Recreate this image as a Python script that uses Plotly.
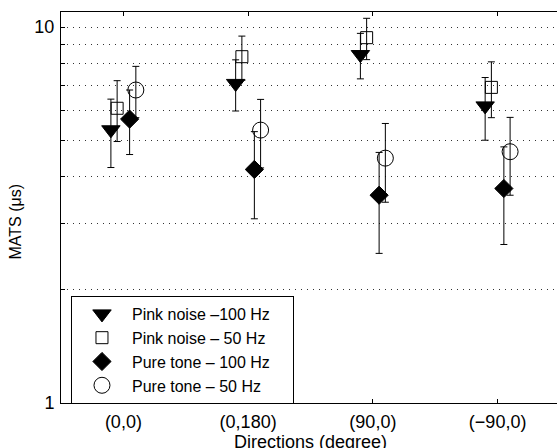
import plotly.graph_objects as go

# ---- data ----
directions = ["(0,0)", "(0,180)", "(90,0)", "(\u221290,0)"]
series_names = ["Pink noise \u2013100 Hz", "Pink noise \u2013 50 Hz",
                "Pure tone \u2013 100 Hz", "Pure tone \u2013 50 Hz"]
pink_100 = [5.33, 7.08, 8.45, 6.17]
pink_100_err = [1.10, 1.10, 1.17, 1.17]
pink_50 = [6.08, 8.34, 9.37, 6.91]
pink_50_err = [1.12, 1.12, 1.18, 1.17]
pure_100 = [5.69, 4.18, 3.57, 3.72]
pure_100_err = [1.11, 1.09, 1.07, 1.08]
pure_50 = [6.80, 5.32, 4.48, 4.66]
pure_50_err = [1.06, 1.10, 1.06, 1.09]
y_tick_vals = [1, 2, 3, 4, 5, 6, 7, 8, 9, 10]
y_tick_text = ["1", "", "", "", "", "", "", "", "", "10"]

# ---- styling ----
FONT = "Liberation Sans, Arial, Helvetica, sans-serif"
base_x = list(range(1, len(directions) + 1))
offsets = [-0.10, -0.05, 0.05, 0.10]
styles = [
    dict(symbol="triangle-down", size=16, color="black", line=dict(color="black", width=1)),
    dict(symbol="square-open", size=12, color="black", line=dict(color="black", width=1)),
    dict(symbol="diamond", size=14, color="black", line=dict(color="black", width=1)),
    dict(symbol="circle-open", size=16, color="black", line=dict(color="black", width=1)),
]
values = [pink_100, pink_50, pure_100, pure_50]
errors = [pink_100_err, pink_50_err, pure_100_err, pure_50_err]
PAD = "\u00a0" * 4

fig = go.Figure()
for name, vals, errs, off, st in zip(series_names, values, errors, offsets, styles):
    fig.add_trace(go.Scatter(
        x=[b + off for b in base_x], y=vals, name=name + PAD, mode="markers",
        marker=st,
        error_y=dict(type="data", array=errs, visible=True, color="black",
                     thickness=1, width=3.5),
    ))

# figure is a bit wider than the window so the plot's right edge falls just outside it
fig.update_layout(
    width=600, height=448,
    margin=dict(l=61, r=40, t=12, b=45),
    paper_bgcolor="white", plot_bgcolor="white",
    font=dict(family=FONT, size=18, color="black"),
    showlegend=True,
    legend=dict(x=0.02, y=0.2737, xanchor="left", yanchor="top",
                bordercolor="black", borderwidth=1, bgcolor="white",
                font=dict(family=FONT, size=16, color="black"),
                tracegroupgap=0, itemwidth=50),
    xaxis=dict(range=[0.5, 4.5], tickmode="array", tickvals=base_x,
               ticktext=directions, ticks="inside", ticklen=4,
               tickcolor="black", showline=True, linecolor="black",
               linewidth=1, mirror="ticks", showgrid=False, zeroline=False,
               ticklabelstandoff=2,
               tickfont=dict(family=FONT, size=18)),
    yaxis=dict(type="log", range=[0, 1.04], tickmode="array",
               tickvals=y_tick_vals, ticktext=y_tick_text,
               ticks="inside", ticklen=4, tickcolor="black",
               showline=True, linecolor="black", linewidth=1, mirror=False,
               showgrid=True, gridcolor="#333", gridwidth=1, griddash="1px,5px",
               zeroline=False, ticklabelstandoff=2,
               tickfont=dict(family=FONT, size=18)),
    annotations=[
        dict(text="Directions (degree)", xref="paper", yref="paper",
             x=0.499, y=-0.0985, xanchor="center", yanchor="middle",
             showarrow=False, font=dict(family=FONT, size=18)),
        dict(text="MATS (\u03bcs)", xref="paper", yref="paper",
             x=-0.0892, y=0.4655, xanchor="center", yanchor="middle",
             textangle=-90, showarrow=False, font=dict(family=FONT, size=16)),
    ],
)

fig.write_html(
    "out.html", config={"displayModeBar": False},
    post_script=("document.documentElement.style.overflow='hidden';"
                 "document.body.style.overflow='hidden';"
                 "document.body.style.margin='0';document.body.style.padding='0';"),
)
